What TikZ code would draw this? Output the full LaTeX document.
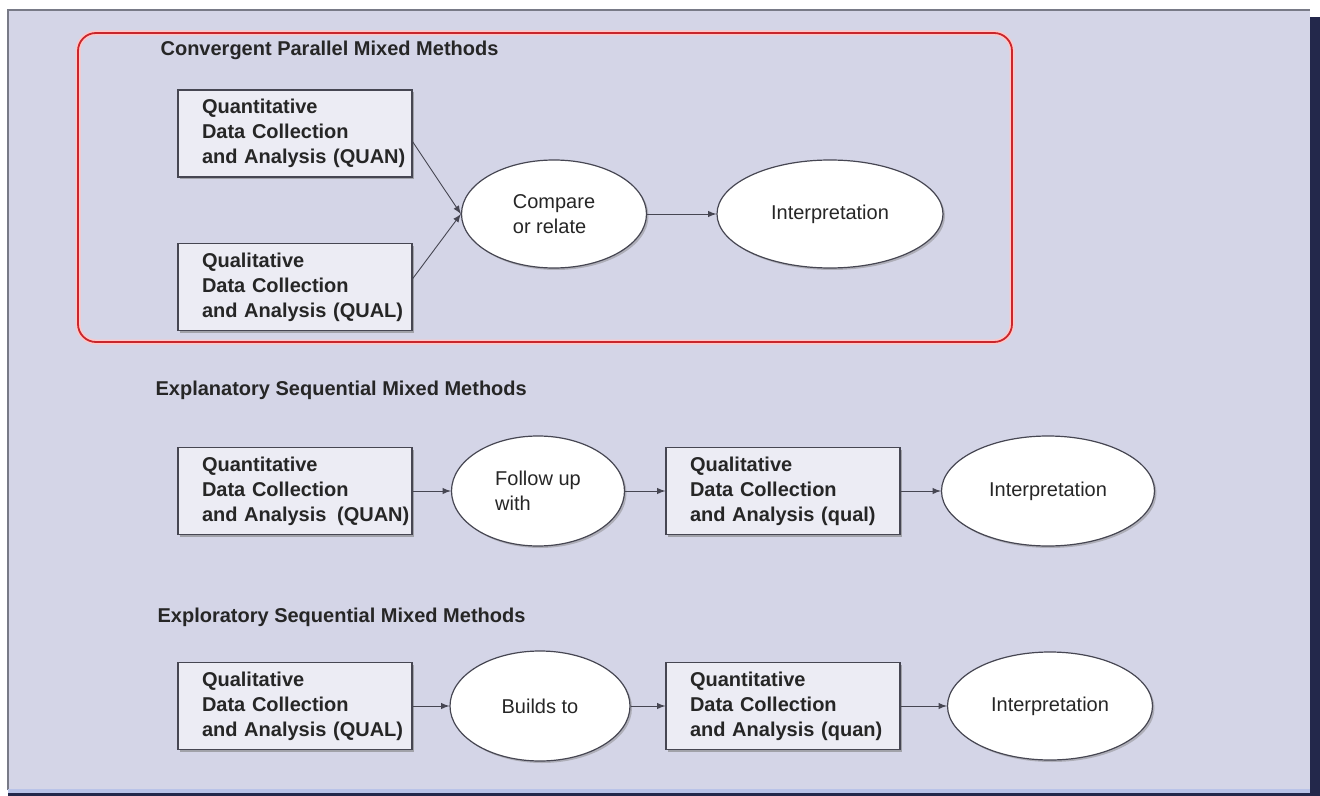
\documentclass[tikz,border=0pt]{standalone}
\usepackage{fontspec}
\setmainfont{Liberation Sans}
\usepackage{tikz}
\usetikzlibrary{shapes.geometric}
\usetikzlibrary{shadows}
\definecolor{panel}{RGB}{212,213,231}
\definecolor{boxfill}{RGB}{236,236,244}
\definecolor{edge}{RGB}{70,70,82}
\definecolor{framegrey}{RGB}{120,122,135}
\definecolor{framenavy}{RGB}{35,40,75}
\definecolor{frameblue}{RGB}{185,195,232}
\definecolor{redline}{RGB}{200,38,45}
\tikzset{every picture/.style={line width=0.6pt},
  stagebox/.style={rectangle,draw=edge,fill=boxfill,text width=93pt,minimum height=43.5pt,inner xsep=12pt,inner ysep=0pt,align=left,font=\bfseries\fontsize{10}{12.5}\selectfont,text=black!85,drop shadow={shadow xshift=1.2pt,shadow yshift=-1.2pt,opacity=0.6}},
  linkoval/.style={ellipse,draw=edge,fill=white,inner sep=0pt,align=left,font=\fontsize{10}{12.5}\selectfont,text=black!85,drop shadow={shadow xshift=1pt,shadow yshift=-1pt,opacity=0.45}},
  heading/.style={anchor=west,inner sep=0pt,font=\bfseries\fontsize{10}{12}\selectfont,text=black!85},
  flow/.style={-latex,draw=edge,line width=0.45pt}}
\begin{document}
\begin{tikzpicture}[x=0.5pt,y=-0.5pt]
\useasboundingbox (0,0) rectangle (1320,796);
\fill[panel] (8,10) rectangle (1310,790);
\draw[framegrey] (8,790) -- (8,10) -- (1310,10);
\fill[framenavy] (1310,17) rectangle (1320,796);
\fill[frameblue] (8,789) rectangle (1310,793);
\fill[framenavy] (8,793) rectangle (1320,796);
\draw[redline,line width=0.9pt,rounded corners=9pt,preaction={draw=red!22,line width=2.5pt}] (78,33) rectangle (1012,342);
\node[heading] (conv) at (160,50) {Convergent Parallel Mixed Methods};
\node[stagebox] (cquan) at (295,133.5) {Quantitative\\Data Collection\\\mbox{and Analysis (QUAN)}};
\node[stagebox] (cqual) at (295,287) {Qualitative\\Data Collection\\\mbox{and Analysis (QUAL)}};
\node[linkoval,minimum width=92.5pt,minimum height=54pt] (cmp) at (554,214) {Compare\\or relate};
\node[linkoval,minimum width=113pt,minimum height=54pt] (cint) at (830,214) {Interpretation};
\draw[flow] (cquan.-4) -- (cmp.west);
\draw[flow] (cqual.4) -- (cmp.west);
\draw[flow] (cmp) -- (cint);
\node[heading] (expl) at (155,390) {Explanatory Sequential Mixed Methods};
\node[stagebox] (equan) at (295,491) {Quantitative\\Data Collection\\\mbox{and Analysis\hspace{2pt} (QUAN)}};
\node[linkoval,minimum width=86.5pt,minimum height=55pt] (follow) at (538,491) {Follow up\\with};
\node[stagebox] (equal) at (783,491) {Qualitative\\Data Collection\\\mbox{and Analysis (qual)}};
\node[linkoval,minimum width=106.5pt,minimum height=55pt] (eint) at (1048,491) {Interpretation};
\draw[flow] (equan) -- (follow);
\draw[flow] (follow) -- (equal);
\draw[flow] (equal) -- (eint);
\node[heading] (explo) at (157,617) {Exploratory Sequential Mixed Methods};
\node[stagebox] (xqual) at (295,706) {Qualitative\\Data Collection\\\mbox{and Analysis (QUAL)}};
\node[linkoval,minimum width=90pt,minimum height=55pt] (build) at (540,706) {Builds to};
\node[stagebox] (xquan) at (783,706) {Quantitative\\Data Collection\\\mbox{and Analysis (quan)}};
\node[linkoval,minimum width=102.5pt,minimum height=54pt] (xint) at (1050,706) {Interpretation};
\draw[flow] (xqual) -- (build);
\draw[flow] (build) -- (xquan);
\draw[flow] (xquan) -- (xint);
\end{tikzpicture}
\end{document}
